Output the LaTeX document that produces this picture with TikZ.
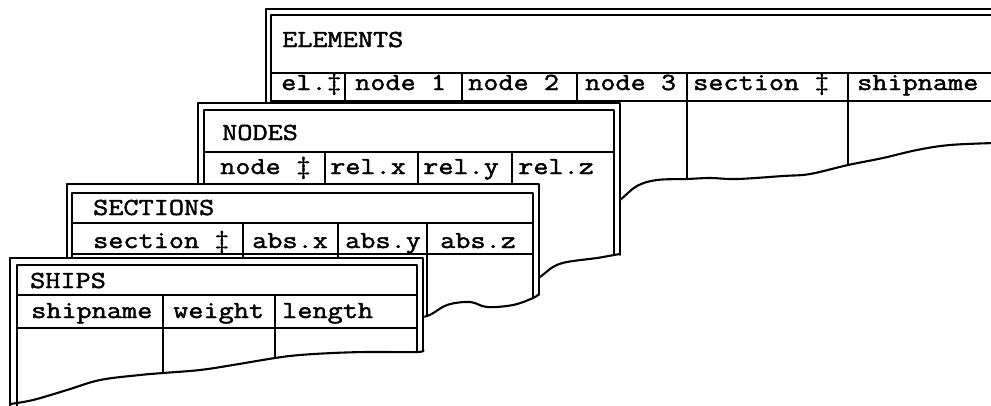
\documentclass[tikz,border=0pt]{standalone}
\usepackage{fontspec}
\newfontfamily\tw[FakeStretch=1.2,FakeBold=1.8]{Latin Modern Mono}
\begin{document}
\begin{tikzpicture}[x=1pt,y=-1pt, line join=round, line cap=round,
  ln/.style={line width=2.3pt},
  oln/.style={line width=1.9pt},
  wv/.style={line width=2.1pt},
  txt/.style={anchor=base west, inner sep=0pt, font=\tw\fontsize{24.5}{28}\selectfont}]
\useasboundingbox (0,0) rectangle (991,405);
\clip (0,0) rectangle (991,405);

% ---------------- ELEMENTS ----------------
\draw[oln] (266,110) -- (266,9) -- (995,9);
\draw[ln] (271,110) -- (271,15) -- (995,15);
\draw[ln] (271,73) -- (995,73);
\draw[ln] (271,101) -- (995,101);
\foreach \x in {345,462,577} \draw[ln] (\x,73) -- (\x,200);
\draw[ln] (687,73) -- (687,179);
\draw[ln] (848,73) -- (848,165);
\draw[wv] plot[smooth, tension=0.6] coordinates {(600,215) (620,200) (637,186) (657,180) (687,179) (710,178) (737,179) (783,176) (810,174) (848,165) (883,158) (917,150) (950,145) (995,143)};
\node[txt] (eT) at (282,47) {ELEMENTS};
\node[txt] (e1) at (281,90) {el.‡};
\node[txt] (e2) at (355,90) {node 1};
\node[txt] (e3) at (468,90) {node 2};
\node[txt] (e4) at (585,90) {node 3};
\node[txt] (e5) at (693,90) {section ‡};
\node[txt] (e6) at (857,90) {shipname};

% ---------------- NODES ----------------
\fill[white] (196,102) -- (621,102) -- (621,255) -- (597,258) -- (567,262) -- (553,267) -- (540,277) -- (196,280) -- cycle;
\draw[oln] (198,190) -- (198,103) -- (620,103) -- (620,255);
\draw[ln] (204,190) -- (204,110) -- (614,110) -- (614,255);
\draw[ln] (204,152) -- (614,152);
\foreach \x in {325,418,512} \draw[ln] (\x,152) -- (\x,183);
\draw[wv] plot[smooth, tension=0.6] coordinates {(520,290) (540,277) (553,267) (567,262) (597,258) (614,255) (620,254)};
\node[txt] (nT) at (222,140) {NODES};
\node[txt] (n1) at (220,174) {node ‡};
\node[txt] (n2) at (330,174) {rel.x};
\node[txt] (n3) at (423,174) {rel.y};
\node[txt] (n4) at (518,174) {rel.z};

% ---------------- SECTIONS ----------------
\fill[white] (65,183) -- (540,183) -- (540,298) -- (533,297) -- (513,305) -- (487,307) -- (470,302) -- (447,305) -- (427,316) -- (65,320) -- cycle;
\draw[oln] (67,265) -- (67,184) -- (539,184) -- (539,295);
\draw[ln] (72,265) -- (72,193) -- (533,193) -- (533,298);
\draw[ln] (72,223) -- (533,223);
\draw[ln] (72,254) -- (533,254);
\foreach \x in {243,338} \draw[ln] (\x,223) -- (\x,262);
\draw[ln] (427,223) -- (427,316);
\draw[wv] plot[smooth, tension=0.6] coordinates {(400,320) (427,316) (447,305) (470,302) (487,307) (513,305) (533,298) (539,294)};
\node[txt] (sT) at (93,215) {SECTIONS};
\node[txt] (s1) at (93,248) {section ‡};
\node[txt] (s2) at (252,248) {abs.x};
\node[txt] (s3) at (345,248) {abs.y};
\node[txt] (s4) at (440,248) {abs.z};

% ---------------- SHIPS ----------------
\fill[white] (8,257) -- (424,257) -- (424,352) -- (367,352) -- (333,353) -- (300,355) -- (275,358) -- (233,365) -- (200,370) -- (163,373) -- (140,375) -- (100,380) -- (67,390) -- (33,400) -- (8,406) -- cycle;
\draw[oln] (10,406) -- (10,258) -- (423,258) -- (423,351);
\draw[ln] (17,406) -- (17,265) -- (417,265) -- (417,352);
\draw[ln] (17,295) -- (417,295);
\draw[ln] (17,328) -- (417,328);
\draw[ln] (163,295) -- (163,373);
\draw[ln] (275,295) -- (275,358);
\draw[wv] plot[smooth, tension=0.6] coordinates {(10,404) (33,400) (67,390) (100,380) (140,375) (163,373) (200,370) (233,365) (275,358) (300,355) (333,353) (367,352) (417,352) (423,350)};
\node[txt] (pT) at (30,288) {SHIPS};
\node[txt] (p1) at (31,318) {shipname};
\node[txt] (p2) at (173,318) {weight};
\node[txt] (p3) at (282,318) {length};
\end{tikzpicture}
\end{document}
